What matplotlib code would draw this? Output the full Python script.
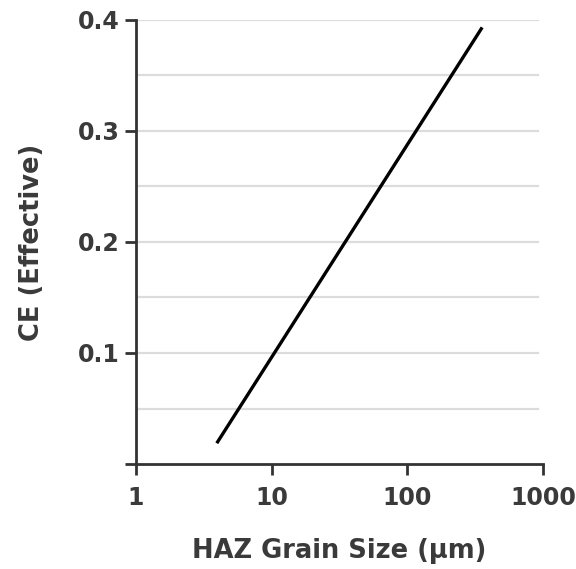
import matplotlib
matplotlib.use("Agg")
import matplotlib.pyplot as plt
from matplotlib.ticker import FixedLocator, NullLocator

# Line end points (HAZ grain size in um, effective CE)
grain_size = [4, 350]
ce_eff = [0.02, 0.392]

x_ticks = [1, 10, 100, 1000]
x_labels = ['1', '10', '100', '1000']
y_ticks = [0, 0.1, 0.2, 0.3, 0.4]
y_labels = ['', '0.1', '0.2', '0.3', '0.4']
grid_levels = [0.05, 0.1, 0.15, 0.2, 0.25, 0.3, 0.35, 0.4]

plt.rcParams['font.family'] = ['DejaVu Sans']
text_col = '#3a3a3a'

fig = plt.figure(figsize=(5.76, 5.69), dpi=100)
ax = fig.add_axes([0.236, 0.1845, 0.707, 0.7805])

# light horizontal gridlines
for g in grid_levels:
    ax.axhline(g, xmin=0, xmax=0.988, color='#dcdcdc', lw=1.6, zorder=0)

ax.plot(grain_size, ce_eff, color='black', lw=2.4, zorder=3)

ax.set_xscale('log')
ax.set_xlim(1, 1000)
ax.set_ylim(0, 0.4)
ax.xaxis.set_major_locator(FixedLocator(x_ticks))
ax.xaxis.set_minor_locator(NullLocator())
ax.set_xticklabels(x_labels)
ax.set_yticks(y_ticks)
ax.set_yticklabels(y_labels)

for side in ['top', 'right']:
    ax.spines[side].set_visible(False)
for side in ['left', 'bottom']:
    ax.spines[side].set_color('#333333')
    ax.spines[side].set_linewidth(2)

ax.tick_params(axis='both', direction='out', length=8, width=2, color='#333333',
               labelsize=17, labelcolor=text_col)
ax.tick_params(axis='x', pad=8)
ax.tick_params(axis='y', pad=4)
for lab in ax.get_xticklabels() + ax.get_yticklabels():
    lab.set_fontweight('bold')

ax.set_xlabel('HAZ Grain Size (μm)', fontsize=18.5, fontweight='bold', color=text_col, labelpad=20)
ax.set_ylabel('CE (Effective)', fontsize=18.5, fontweight='bold', color=text_col, labelpad=23)

fig.savefig('out.png', dpi=100)
